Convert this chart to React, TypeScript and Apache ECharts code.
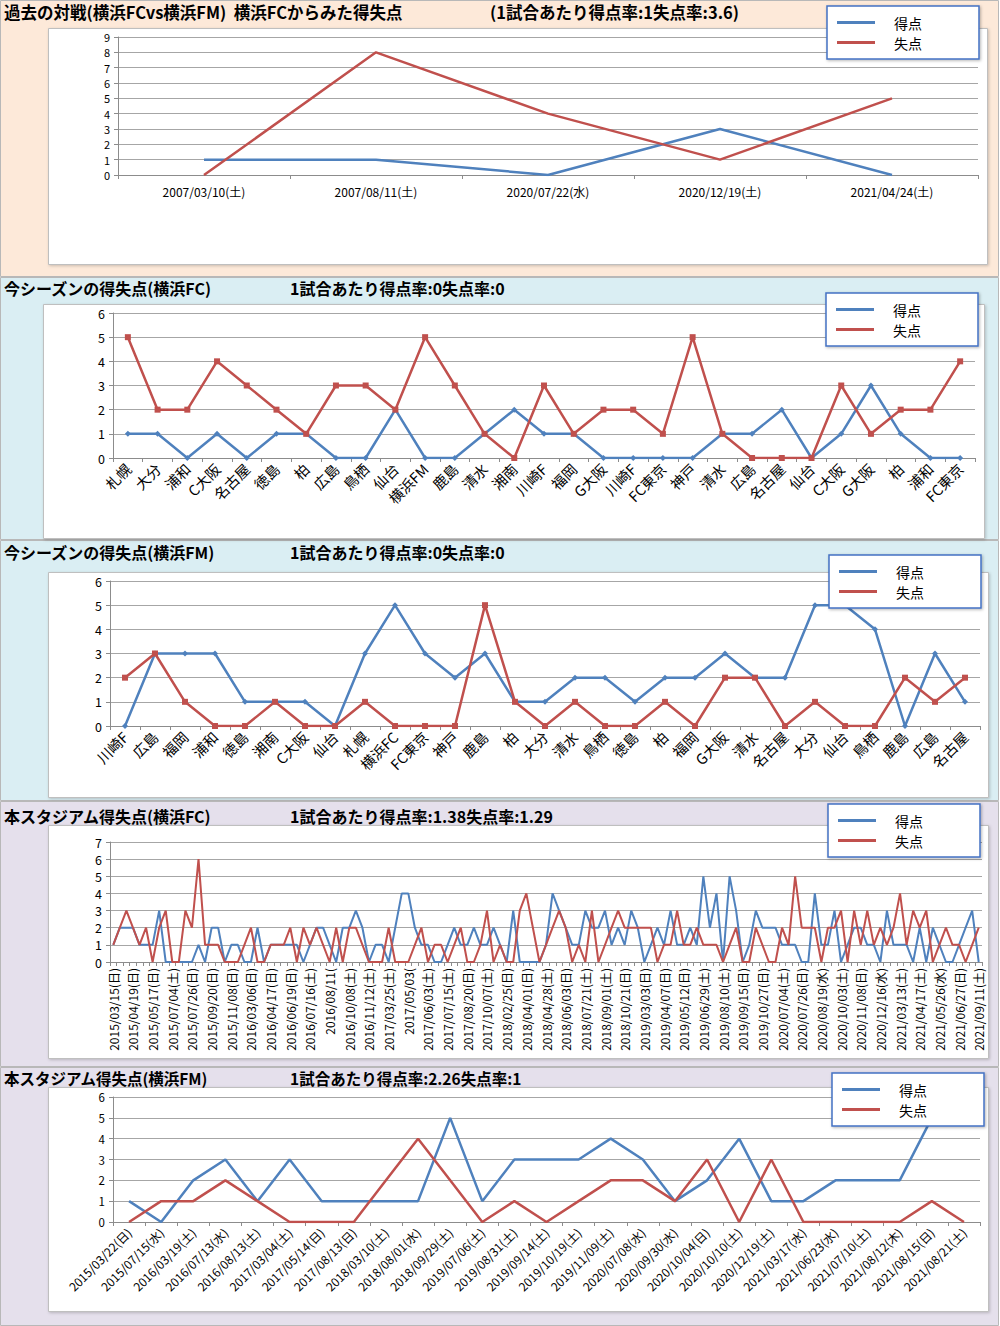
import React, { useEffect, useRef } from "react";
import * as echarts from "echarts";

// ---------- Panel 1: past head-to-head ----------
const pastDates = ["2007/03/10(土)", "2007/08/11(土)", "2020/07/22(水)", "2020/12/19(土)", "2021/04/24(土)"];
const pastFor = [1, 1, 0, 3, 0];
const pastAgainst = [0, 8, 4, 1, 5];

// ---------- Panel 2: this season Yokohama FC ----------
const fcSeasonOpp = ["札幌", "大分", "浦和", "C大阪", "名古屋", "徳島", "柏", "広島", "鳥栖", "仙台", "横浜FM", "鹿島", "清水", "湘南", "川崎F", "福岡", "G大阪", "川崎F", "FC東京", "神戸", "清水", "広島", "名古屋", "仙台", "C大阪", "G大阪", "柏", "浦和", "FC東京"];
const fcSeasonFor = [1, 1, 0, 1, 0, 1, 1, 0, 0, 2, 0, 0, 1, 2, 1, 1, 0, 0, 0, 0, 1, 1, 2, 0, 1, 3, 1, 0, 0];
const fcSeasonAgainst = [5, 2, 2, 4, 3, 2, 1, 3, 3, 2, 5, 3, 1, 0, 3, 1, 2, 2, 1, 5, 1, 0, 0, 0, 3, 1, 2, 2, 4];

// ---------- Panel 3: this season Yokohama FM ----------
const fmSeasonOpp = ["川崎F", "広島", "福岡", "浦和", "徳島", "湘南", "C大阪", "仙台", "札幌", "横浜FC", "FC東京", "神戸", "鹿島", "柏", "大分", "清水", "鳥栖", "徳島", "柏", "福岡", "G大阪", "清水", "名古屋", "大分", "仙台", "鳥栖", "鹿島", "広島", "名古屋"];
const fmSeasonFor = [0, 3, 3, 3, 1, 1, 1, 0, 3, 5, 3, 2, 3, 1, 1, 2, 2, 1, 2, 2, 3, 2, 2, 5, 5, 4, 0, 3, 1];
const fmSeasonAgainst = [2, 3, 1, 0, 0, 1, 0, 0, 1, 0, 0, 0, 5, 1, 0, 1, 0, 0, 1, 0, 2, 2, 0, 1, 0, 0, 2, 1, 2];

// ---------- Panel 4: this stadium Yokohama FC (133 games, every 3rd date labelled) ----------
const fcHomeDateLabels = [
  "2015/03/15(日)", "2015/04/19(日)", "2015/05/17(日)", "2015/07/04(土)", "2015/07/26(日)", "2015/09/20(日)",
  "2015/11/08(日)", "2016/03/06(日)", "2016/04/17(日)", "2016/06/19(日)", "2016/07/16(土)", "2016/08/11(",
  "2016/10/08(土)", "2016/11/12(土)", "2017/03/25(土)", "2017/05/03(", "2017/06/03(土)", "2017/07/15(土)",
  "2017/08/20(日)", "2017/10/07(土)", "2018/02/25(日)", "2018/04/01(日)", "2018/04/28(土)", "2018/06/03(日)",
  "2018/07/21(土)", "2018/09/01(土)", "2018/10/21(日)", "2019/03/03(日)", "2019/04/07(日)", "2019/05/12(日)",
  "2019/06/29(土)", "2019/08/10(土)", "2019/09/15(日)", "2019/10/27(日)", "2020/07/04(土)", "2020/07/26(日)",
  "2020/08/19(水)", "2020/10/03(土)", "2020/11/08(日)", "2020/12/16(水)", "2021/03/13(土)", "2021/04/17(土)",
  "2021/05/26(水)", "2021/06/27(日)", "2021/09/11(土)"
];
const fcHomeFor = [
  1, 2, 2, 2, 1, 1, 1, 3, 0, 0,
  0, 0, 0, 1, 0, 2, 2, 0, 1, 1,
  0, 0, 2, 0, 1, 1, 1, 1, 1, 0,
  1, 2, 2, 1, 0, 2, 2, 3, 2, 0,
  1, 1, 0, 2, 4, 4, 2, 1, 1, 0,
  0, 1, 2, 1, 1, 2, 1, 1, 2, 1,
  0, 3, 0, 0, 0, 0, 1, 4, 3, 2,
  1, 1, 3, 2, 2, 3, 1, 2, 1, 3,
  2, 0, 1, 2, 1, 3, 1, 1, 2, 1,
  5, 2, 4, 0, 5, 3, 0, 1, 3, 2,
  2, 2, 1, 1, 1, 0, 0, 4, 1, 1,
  3, 0, 1, 2, 2, 1, 1, 0, 3, 1,
  1, 1, 0, 2, 0, 2, 1, 0, 0, 1,
  2, 3, 0
];
const fcHomeAgainst = [
  1, 2, 3, 2, 1, 2, 0, 2, 3, 0,
  0, 3, 2, 6, 1, 1, 1, 0, 0, 0,
  1, 2, 0, 0, 1, 1, 1, 2, 0, 2,
  1, 2, 1, 0, 2, 0, 2, 2, 1, 0,
  0, 0, 2, 0, 0, 0, 1, 2, 0, 1,
  1, 0, 1, 2, 0, 0, 1, 3, 0, 1,
  0, 0, 3, 4, 2, 0, 1, 2, 3, 2,
  0, 1, 0, 3, 0, 1, 2, 3, 2, 2,
  2, 2, 2, 0, 1, 1, 3, 1, 1, 2,
  1, 1, 1, 0, 1, 2, 0, 0, 2, 1,
  0, 0, 2, 1, 5, 2, 2, 2, 0, 2,
  2, 3, 0, 3, 1, 3, 1, 2, 1, 2,
  4, 1, 3, 2, 3, 0, 1, 2, 1, 1,
  0, 1, 2
];

// ---------- Panel 5: this stadium Yokohama FM ----------
const fmHomeDates = [
  "2015/03/22(日)", "2015/07/15(水)", "2016/03/19(土)", "2016/07/13(水)", "2016/08/13(土)", "2017/03/04(土)",
  "2017/05/14(日)", "2017/08/13(日)", "2018/03/10(土)", "2018/08/01(水)", "2018/09/29(土)", "2019/07/06(土)",
  "2019/08/31(土)", "2019/09/14(土)", "2019/10/19(土)", "2019/11/09(土)", "2020/07/08(水)", "2020/09/30(水)",
  "2020/10/04(日)", "2020/10/10(土)", "2020/12/19(土)", "2021/03/17(水)", "2021/06/23(水)", "2021/07/10(土)",
  "2021/08/12(木)", "2021/08/15(日)", "2021/08/21(土)"
];
const fmHomeFor = [1, 0, 2, 3, 1, 3, 1, 1, 1, 1, 5, 1, 3, 3, 3, 4, 3, 1, 2, 4, 1, 1, 2, 2, 2, 5, 5];
const fmHomeAgainst = [0, 1, 1, 2, 1, 0, 0, 0, 2, 4, 2, 0, 1, 0, 1, 2, 2, 1, 3, 0, 3, 0, 0, 0, 0, 1, 0];

const titles = [
  ["過去の対戦(横浜FCvs横浜FM)  横浜FCからみた得失点", "(1試合あたり得点率:1失点率:3.6)"],
  ["今シーズンの得失点(横浜FC)", "1試合あたり得点率:0失点率:0"],
  ["今シーズンの得失点(横浜FM)", "1試合あたり得点率:0失点率:0"],
  ["本スタジアム得失点(横浜FC)", "1試合あたり得点率:1.38失点率:1.29"],
  ["本スタジアム得失点(横浜FM)", "1試合あたり得点率:2.26失点率:1"],
];
const seriesNames = ["得点", "失点"];

const BLUE = "#4F81BD";
const RED = "#C0504D";
const FF = '"Noto Sans CJK JP", "Noto Sans", sans-serif';

export default function App() {
  const ref = useRef<HTMLDivElement>(null);

  useEffect(() => {
    if (!ref.current) return;
    const chart = echarts.init(ref.current, null, { renderer: "svg" });

    const fcHomeCats = fcHomeFor.map((_, i) => (i % 3 === 0 ? fcHomeDateLabels[i / 3] : ""));

    const grids = [
      { left: 118, right: 22, top: 37, height: 138 },
      { left: 113, right: 25, top: 313, height: 145 },
      { left: 110, right: 20, top: 581, height: 145 },
      { left: 110, right: 18, top: 842, height: 120 },
      { left: 113, right: 20, top: 1097, height: 125 },
    ].map((g) => ({ ...g, containLabel: false, outerBoundsMode: "none" }));

    const xCfg = [
      { data: pastDates, rotate: 0, fontSize: 12, interval: 0, margin: 10 },
      { data: fcSeasonOpp, rotate: 45, fontSize: 14.5, interval: 0, margin: 8 },
      { data: fmSeasonOpp, rotate: 45, fontSize: 14.5, interval: 0, margin: 8 },
      { data: fcHomeCats, rotate: 90, fontSize: 12, interval: 2, margin: 6 },
      { data: fmHomeDates, rotate: 45, fontSize: 12, interval: 0, margin: 8 },
    ];
    const yMax = [9, 6, 6, 7, 6];
    const yFont = [11, 12.5, 12.5, 12.5, 11.5];

    const xAxis = xCfg.map((c, i) => ({
      type: "category",
      gridIndex: i,
      data: c.data,
      boundaryGap: true,
      axisLine: { show: true, lineStyle: { color: "#8C8C8C", width: 1 } },
      axisTick: { show: true, interval: 0, length: 4, lineStyle: { color: "#8C8C8C" } },
      axisLabel: {
        interval: c.interval,
        rotate: c.rotate,
        fontSize: c.fontSize,
        fontFamily: FF,
        color: "#000",
        margin: c.margin,
        hideOverlap: false,
      },
      splitLine: { show: false },
    }));

    const yAxis = yMax.map((m, i) => ({
      type: "value",
      gridIndex: i,
      min: 0,
      max: m,
      interval: 1,
      axisLine: { show: true, lineStyle: { color: "#8C8C8C", width: 1 } },
      axisTick: { show: true, length: 4, lineStyle: { color: "#8C8C8C" } },
      axisLabel: { fontSize: yFont[i], fontFamily: FF, color: "#000", margin: 8, lineHeight: yFont[i] },
      splitLine: { show: true, lineStyle: { color: "#A6A6A6", width: 1 } },
    }));

    const mk = (name: string, data: number[], idx: number, color: string, width: number, symbol?: string, symbolSize?: number) => ({
      type: "line",
      name,
      data,
      xAxisIndex: idx,
      yAxisIndex: idx,
      color,
      lineStyle: { color, width },
      itemStyle: { color },
      showSymbol: !!symbol,
      symbol: symbol || "none",
      symbolSize: symbolSize || 0,
      z: 2,
    });

    const series = [
      mk(seriesNames[0], pastFor, 0, BLUE, 2.5),
      mk(seriesNames[1], pastAgainst, 0, RED, 2.5),
      mk(seriesNames[0], fcSeasonFor, 1, BLUE, 2.5, "diamond", 6),
      mk(seriesNames[1], fcSeasonAgainst, 1, RED, 2.5, "rect", 6),
      mk(seriesNames[0], fmSeasonFor, 2, BLUE, 2.5, "diamond", 6),
      mk(seriesNames[1], fmSeasonAgainst, 2, RED, 2.5, "rect", 6),
      mk(seriesNames[0], fcHomeFor, 3, BLUE, 2, undefined),
      mk(seriesNames[1], fcHomeAgainst, 3, RED, 2, undefined),
      mk(seriesNames[0], fmHomeFor, 4, BLUE, 2.5, undefined),
      mk(seriesNames[1], fmHomeAgainst, 4, RED, 2.5, undefined),
    ];

    const legendPos = [
      [827, 6],
      [826, 293],
      [829, 555],
      [828, 804],
      [832, 1073],
    ];
    const legend = legendPos.map(([l, t]) => ({
      left: l,
      top: t,
      orient: "vertical",
      icon: "rect",
      itemWidth: 38,
      itemHeight: 3,
      itemGap: 3,
      padding: [8, 57, 8, 10],
      backgroundColor: "#FFFFFF",
      borderColor: "#4472C4",
      borderWidth: 1.5,
      shadowBlur: 3,
      shadowColor: "rgba(0,0,0,0.3)",
      shadowOffsetX: 1,
      shadowOffsetY: 1,
      selectedMode: false,
      data: seriesNames.map((n) => ({ name: n })),
      textStyle: { fontSize: 14, fontFamily: FF, color: "#000", padding: [0, 0, 0, 14], lineHeight: 17 },
    }));

    const panelBg = [
      { y: 0, h: 277, fill: "#FDE9D9" },
      { y: 277, h: 263, fill: "#DAEEF3" },
      { y: 540, h: 261, fill: "#DAEEF3" },
      { y: 801, h: 266, fill: "#E5E0EC" },
      { y: 1067, h: 259, fill: "#E5E0EC" },
    ];
    const innerBox = [
      { x: 48, y: 28, w: 939, h: 236 },
      { x: 43, y: 304, w: 941, h: 234 },
      { x: 48, y: 572, w: 940, h: 225 },
      { x: 48, y: 825, w: 940, h: 233 },
      { x: 48, y: 1087, w: 940, h: 224 },
    ];
    const titleY = [12, 288, 552, 816, 1078];
    const subX = [490, 290, 290, 290, 290];
    const titleFont = [16.5, 16, 16, 16, 15.5];

    const graphic: any[] = [];
    panelBg.forEach((p) => {
      graphic.push({
        type: "rect",
        z: -20,
        shape: { x: 0.5, y: p.y + 0.5, width: 998, height: p.h - 1 },
        style: { fill: p.fill, stroke: "#B8B8B8", lineWidth: 1 },
        silent: true,
      });
    });
    innerBox.forEach((b) => {
      graphic.push({
        type: "rect",
        z: -10,
        shape: { x: b.x + 0.5, y: b.y + 0.5, width: b.w, height: b.h },
        style: {
          fill: "#FFFFFF",
          stroke: "#BFBFBF",
          lineWidth: 1,
          shadowBlur: 3,
          shadowColor: "rgba(0,0,0,0.2)",
          shadowOffsetX: 1,
          shadowOffsetY: 1,
        },
        silent: true,
      });
    });
    titles.forEach((t, i) => {
      [0, 1].forEach((k) => {
        graphic.push({
          type: "text",
          z: 10,
          x: k === 0 ? 4 : subX[i],
          y: titleY[i],
          style: {
            text: t[k],
            fontSize: titleFont[i],
            fontWeight: "bold",
            fontFamily: FF,
            fill: "#000",
            verticalAlign: "middle",
            lineHeight: titleFont[i],
          },
          silent: true,
        });
      });
    });

    chart.setOption({
      animation: false,
      backgroundColor: "#FFFFFF",
      textStyle: { fontFamily: FF },
      grid: grids,
      xAxis,
      yAxis,
      legend,
      series,
      graphic,
    });

    return () => chart.dispose();
  }, []);

  return <div ref={ref} style={{ position: "absolute", left: 0, top: 0, width: 1000, height: 1326 }} />;
}
